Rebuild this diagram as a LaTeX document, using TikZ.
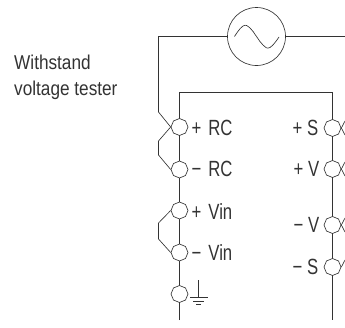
\documentclass[tikz,border=0pt]{standalone}
\usepackage{graphicx}
\usepackage{fontspec}
\setmainfont{Liberation Sans}
\usetikzlibrary{shapes.geometric}
\newcommand{\narrowtxt}[1]{\scalebox{0.76}[1]{#1}}
\newcommand{\narrowtitle}[1]{\scalebox{0.86}[1]{#1}}
\tikzset{
 x=1pt,y=-1pt,
 wire/.style={draw=black!80,line width=0.65pt,line join=miter},
 term/.style={regular polygon,regular polygon sides=8,draw=black!80,fill=white,line width=0.65pt,minimum size=17pt,inner sep=0pt,shape border rotate=22.5},
 lab/.style={font=\fontsize{22pt}{24pt}\selectfont,text=black!80,inner sep=0pt,anchor=base west},
 labr/.style={lab,anchor=base east},
 title/.style={font=\fontsize{20pt}{24pt}\selectfont,text=black!80,inner sep=0pt,anchor=base west},
}
\begin{document}
\begin{tikzpicture}
\useasboundingbox (0,0) rectangle (345,327);
\draw[wire] (179,320) -- (179,92) -- (332.5,92) -- (332.5,320);
\node[term] (rcp) at (179.5,127) {};
\node[term] (rcm) at (179.5,169.5) {};
\node[term] (vip) at (179.5,210.5) {};
\node[term] (vim) at (179.5,252.5) {};
\node[term] (gnd) at (179.5,294) {};
\node[term] (sp) at (332.5,128) {};
\node[term] (vp) at (332.5,169) {};
\node[term] (vm) at (332.5,225) {};
\node[term] (sm) at (332.5,267) {};
\node[circle,draw=black!80,line width=0.65pt,minimum size=58pt,inner sep=0pt] (src) at (256.5,36.5) {};
\draw[wire] plot[smooth,tension=0.75] coordinates {(234.5,36.5) (243,26) (250,28) (256.5,36.5) (263,45) (270,47.5) (279,37)};
\coordinate (a) at (158.5,36.5);
\coordinate (b) at (158.5,112);
\coordinate (c) at (345,36.5);
\coordinate (j1) at (158.5,141);
\coordinate (j2) at (158.5,155);
\coordinate (j3) at (158.5,223);
\coordinate (j4) at (158.5,239);
\draw[wire] (src.west) -- (a) -- (b) -- (rcp.west);
\draw[wire] (src.east) -- (c);
\draw[wire] (rcp.west) -- (j1) -- (j2) -- (rcm.west);
\draw[wire] (vip.west) -- (j3) -- (j4) -- (vim.west);
\coordinate (s1) at (345,121);
\coordinate (s2) at (345,135);
\coordinate (v1) at (345,162);
\coordinate (v2) at (345,176);
\coordinate (m1) at (345,218);
\coordinate (m2) at (345,232);
\coordinate (n1) at (345,260);
\draw[wire] (s1) -- (sp.east) -- (s2);
\draw[wire] (v1) -- (vp.east) -- (v2);
\draw[wire] (m1) -- (vm.east) -- (m2);
\draw[wire] (n1) -- (sm.east);
\coordinate (g0) at (198.5,280);
\coordinate (g1) at (198.5,297.5);
\coordinate (g2) at (190,297.5);
\coordinate (g3) at (207.5,297.5);
\coordinate (g4) at (193,301);
\coordinate (g5) at (204,301);
\coordinate (g6) at (196,304);
\coordinate (g7) at (201,304);
\draw[wire] (g0) -- (g1);
\draw[wire] (g2) -- (g3);
\draw[wire,line width=0.5pt] (g4) -- (g5);
\draw[wire,line width=0.5pt] (g6) -- (g7);
\node[title] (t1) at (14,69) {\narrowtitle{Withstand}};
\node[title] (t2) at (14,95) {\narrowtitle{voltage tester}};
\node[lab] (l1) at (191.5,135) {\narrowtxt{+\kern3pt\ RC}};
\node[lab] (l2) at (191.5,176) {\narrowtxt{−\kern3pt\ RC}};
\node[lab] (l3) at (191.5,219) {\narrowtxt{+\kern3pt\ Vin}};
\node[lab] (l4) at (191.5,260) {\narrowtxt{−\kern3pt\ Vin}};
\node[labr] (r1) at (318.5,135.5) {\narrowtxt{+ S}};
\node[labr] (r2) at (319.5,176) {\narrowtxt{+ V}};
\node[labr] (r3) at (319.5,232) {\narrowtxt{− V}};
\node[labr] (r4) at (318.5,274.5) {\narrowtxt{− S}};
\end{tikzpicture}
\end{document}
